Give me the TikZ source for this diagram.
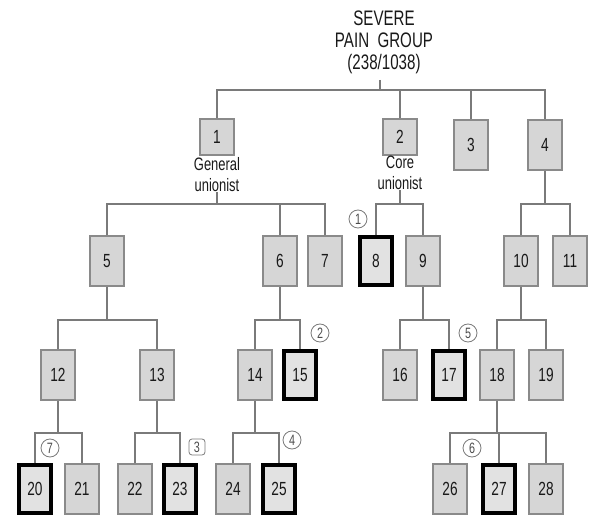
\documentclass[tikz,border=0pt]{standalone}
\usepackage{fontspec}
\setmainfont{Liberation Sans}
\newfontfamily\narrowfont[FakeStretch=0.72]{Liberation Sans}
\definecolor{boxfill}{HTML}{D6D6D6}
\definecolor{boxline}{HTML}{8A8A8A}
\definecolor{linkc}{HTML}{7A7A7A}
\begin{document}
\begin{tikzpicture}[x=1pt,y=-1pt,
  box/.style={draw=boxline,line width=1.4pt,fill=boxfill,minimum width=34pt,minimum height=50pt,inner sep=0pt,font=\narrowfont\fontsize{19}{19}\selectfont,text=black!90},
  shortbox/.style={box,minimum height=36pt},
  keybox/.style={box,draw=black,line width=3.2pt,fill=boxfill!70,minimum width=32pt,minimum height=48pt},
  link/.style={draw=linkc,line width=1.4pt},
  num/.style={circle,draw=linkc,line width=0.8pt,inner sep=0pt,minimum size=18pt,font=\narrowfont\fontsize{15}{15}\selectfont,text=black!70},
  lab/.style={align=center,font=\narrowfont\fontsize{18}{21}\selectfont,inner sep=0pt,text=black!90}]
\useasboundingbox (0,0) rectangle (589,518);
% title
\node[lab,font=\narrowfont\fontsize{21}{22}\selectfont] (title) at (384,42) {SEVERE\\PAIN\ \ GROUP\\(238/1038)};
\coordinate (stub) at (380,80);
% bar levels
\coordinate (b0) at (0,90);
\coordinate (b1) at (0,204);
\coordinate (b2) at (0,320);
\coordinate (b3) at (0,433);
% level 1
\node[shortbox] (n1) at (217,137) {1};
\node[shortbox] (n2) at (400,137) {2};
\node[box] (n3) at (471,145) {3};
\node[box] (n4) at (545,145) {4};
\node[lab] (gl) at (217,175) {General\\unionist};
\node[lab] (cl) at (400,173) {Core\\unionist};
% level 2
\node[box] (n5) at (107,261) {5};
\node[box] (n6) at (280,261) {6};
\node[box] (n7) at (325,261) {7};
\node[keybox] (n8) at (376,261) {8};
\node[box] (n9) at (423,261) {9};
\node[box] (n10) at (521,261) {10};
\node[box] (n11) at (570,261) {11};
% level 3
\node[box] (n12) at (58,375) {12};
\node[box] (n13) at (157,375) {13};
\node[box] (n14) at (255,375) {14};
\node[keybox] (n15) at (300,375) {15};
\node[box] (n16) at (400,375) {16};
\node[keybox] (n17) at (449,375) {17};
\node[box] (n18) at (497,375) {18};
\node[box] (n19) at (546,375) {19};
% level 4
\node[keybox] (n20) at (35,489) {20};
\node[box] (n21) at (82,489) {21};
\node[box] (n22) at (135,489) {22};
\node[keybox] (n23) at (180,489) {23};
\node[box] (n24) at (233,489) {24};
\node[keybox] (n25) at (279,489) {25};
\node[box] (n26) at (450,489) {26};
\node[keybox] (n27) at (499,489) {27};
\node[box] (n28) at (546,489) {28};
% connectors
\begin{scope}[link]
\draw (stub) -- (stub |- b0);
\draw (n1.north) |- (n4.north |- b0) -- (n4.north);
\draw (n2.north) -- (n2.north |- b0);
\draw (n3.north) -- (n3.north |- b0);
\draw (gl.south) -- (gl.south |- b1);
\draw (n5.north) |- (n7.north |- b1) -- (n7.north);
\draw (n6.north) -- (n6.north |- b1);
\draw (cl.south) -- (cl.south |- b1);
\draw (n8.north) |- (n9.north |- b1) -- (n9.north);
\draw (n4.south) -- (n4.south |- b1);
\draw (n10.north) |- (n11.north |- b1) -- (n11.north);
\draw (n5.south) -- (n5.south |- b2);
\draw (n12.north) |- (n13.north |- b2) -- (n13.north);
\draw (n6.south) -- (n6.south |- b2);
\draw (n14.north) |- (n15.north |- b2) -- (n15.north);
\draw (n9.south) -- (n9.south |- b2);
\draw (n16.north) |- (n17.north |- b2) -- (n17.north);
\draw (n10.south) -- (n10.south |- b2);
\draw (n18.north) |- (n19.north |- b2) -- (n19.north);
\draw (n12.south) -- (n12.south |- b3);
\draw (n20.north) |- (n21.north |- b3) -- (n21.north);
\draw (n13.south) -- (n13.south |- b3);
\draw (n22.north) |- (n23.north |- b3) -- (n23.north);
\draw (n14.south) -- (n14.south |- b3);
\draw (n24.north) |- (n25.north |- b3) -- (n25.north);
\draw (n18.south) -- (n18.south |- b3);
\draw (n26.north) |- (n28.north |- b3) -- (n28.north);
\draw (n27.north) -- (n27.north |- b3);
\end{scope}
% circled numbers
\node[num] (c1) at (358,219) {1};
\node[num] (c2) at (320,333) {2};
\node[num,rounded corners=3pt,rectangle,minimum size=16pt] (c3) at (197,447) {3};
\node[num] (c4) at (292,440) {4};
\node[num] (c5) at (468,333) {5};
\node[num] (c6) at (472,448) {6};
\node[num] (c7) at (50,448) {7};
\end{tikzpicture}
\end{document}
